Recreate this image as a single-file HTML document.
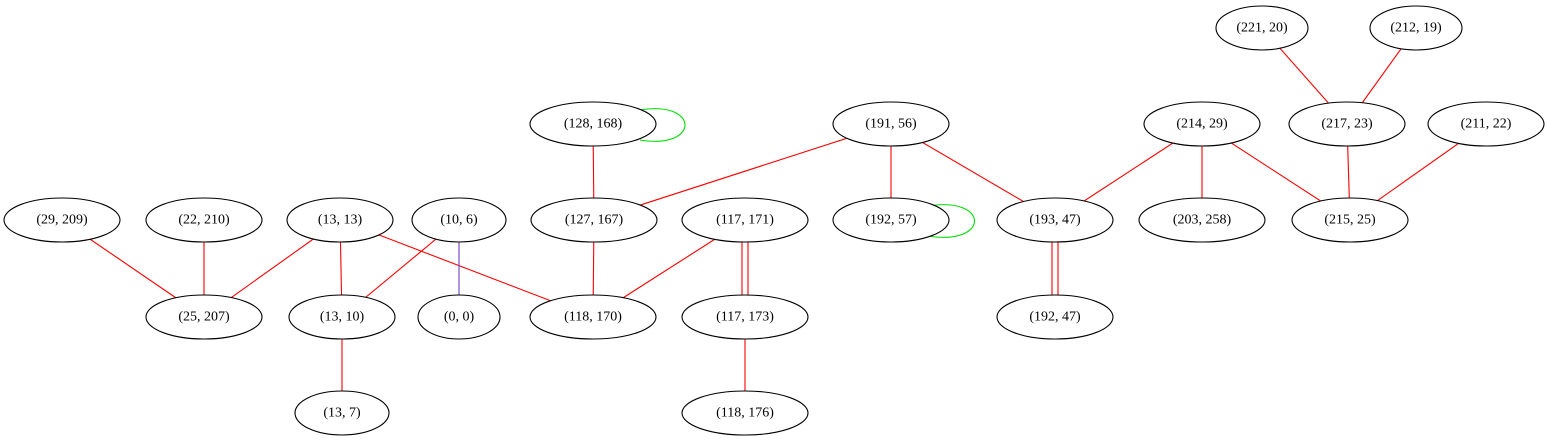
<!DOCTYPE html>
<html><head><meta charset="utf-8"><style>
html,body{margin:0;padding:0;background:#fff;}
svg{display:block;}
text{font-family:"Liberation Serif",serif;font-size:14px;text-anchor:middle;dominant-baseline:central;}
</style></head><body>
<svg width="1549" height="443" viewBox="0 0 1549 443" xmlns="http://www.w3.org/2000/svg">
<g stroke="red" stroke-width="1.1" fill="none">
<line x1="1262" y1="28" x2="1347" y2="124"/>
<line x1="1416" y1="28" x2="1347" y2="124"/>
<line x1="593" y1="124" x2="594" y2="220"/>
<line x1="891" y1="124" x2="594" y2="220"/>
<line x1="891" y1="124" x2="891" y2="220"/>
<line x1="891" y1="124" x2="1055" y2="220"/>
<line x1="1202" y1="124" x2="1055" y2="220"/>
<line x1="1202" y1="124" x2="1202" y2="220"/>
<line x1="1202" y1="124" x2="1350" y2="220"/>
<line x1="1347" y1="124" x2="1350" y2="220"/>
<line x1="1486" y1="124" x2="1350" y2="220"/>
<line x1="62" y1="220" x2="204" y2="317"/>
<line x1="204" y1="220" x2="204" y2="317"/>
<line x1="340" y1="220" x2="204" y2="317"/>
<line x1="340" y1="220" x2="342" y2="317"/>
<line x1="340" y1="220" x2="593" y2="317"/>
<line x1="459" y1="220" x2="342" y2="317"/>
<line x1="594" y1="220" x2="593" y2="317"/>
<line x1="745" y1="220" x2="593" y2="317"/>
<line x1="742" y1="220" x2="742" y2="317"/>
<line x1="748" y1="220" x2="748" y2="317"/>
<line x1="1052" y1="220" x2="1052" y2="317"/>
<line x1="1058" y1="220" x2="1058" y2="317"/>
<line x1="342" y1="317" x2="342" y2="413"/>
<line x1="745" y1="317" x2="745" y2="413"/>
</g>
<line x1="459" y1="220" x2="459" y2="317" stroke="#7040c0" stroke-width="1.1"/>
<g stroke="#00e000" stroke-width="1.1" fill="none">
<path d="M640,110 C700,100 700,150 640,140"/>
<path d="M928,206 C990,196 990,246 928,236"/>
</g>
<g fill="#fff" stroke="#000" stroke-width="1.1">
<ellipse cx="1262" cy="28" rx="46" ry="22"/>
<ellipse cx="1416" cy="28" rx="46" ry="22"/>
<ellipse cx="593" cy="124" rx="63" ry="22"/>
<ellipse cx="891" cy="124" rx="58" ry="22"/>
<ellipse cx="1202" cy="124" rx="58" ry="22"/>
<ellipse cx="1347" cy="124" rx="58" ry="22"/>
<ellipse cx="1486" cy="124" rx="58" ry="22"/>
<ellipse cx="62" cy="220" rx="58" ry="22"/>
<ellipse cx="204" cy="220" rx="58" ry="22"/>
<ellipse cx="340" cy="220" rx="53" ry="22"/>
<ellipse cx="459" cy="220" rx="47" ry="22"/>
<ellipse cx="594" cy="220" rx="63" ry="22"/>
<ellipse cx="745" cy="220" rx="63" ry="22"/>
<ellipse cx="891" cy="220" rx="58" ry="22"/>
<ellipse cx="1055" cy="220" rx="58" ry="22"/>
<ellipse cx="1202" cy="220" rx="63" ry="22"/>
<ellipse cx="1350" cy="220" rx="58" ry="22"/>
<ellipse cx="204" cy="317" rx="58" ry="22"/>
<ellipse cx="342" cy="317" rx="53" ry="22"/>
<ellipse cx="459" cy="317" rx="41" ry="22"/>
<ellipse cx="593" cy="317" rx="63" ry="22"/>
<ellipse cx="745" cy="317" rx="63" ry="22"/>
<ellipse cx="1055" cy="317" rx="58" ry="22"/>
<ellipse cx="342" cy="413" rx="47" ry="22"/>
<ellipse cx="745" cy="413" rx="63" ry="22"/>
</g>
<g fill="#000">
<text x="1262" y="28">(221, 20)</text>
<text x="1416" y="28">(212, 19)</text>
<text x="593" y="124">(128, 168)</text>
<text x="891" y="124">(191, 56)</text>
<text x="1202" y="124">(214, 29)</text>
<text x="1347" y="124">(217, 23)</text>
<text x="1486" y="124">(211, 22)</text>
<text x="62" y="220">(29, 209)</text>
<text x="204" y="220">(22, 210)</text>
<text x="340" y="220">(13, 13)</text>
<text x="459" y="220">(10, 6)</text>
<text x="594" y="220">(127, 167)</text>
<text x="745" y="220">(117, 171)</text>
<text x="891" y="220">(192, 57)</text>
<text x="1055" y="220">(193, 47)</text>
<text x="1202" y="220">(203, 258)</text>
<text x="1350" y="220">(215, 25)</text>
<text x="204" y="317">(25, 207)</text>
<text x="342" y="317">(13, 10)</text>
<text x="459" y="317">(0, 0)</text>
<text x="593" y="317">(118, 170)</text>
<text x="745" y="317">(117, 173)</text>
<text x="1055" y="317">(192, 47)</text>
<text x="342" y="413">(13, 7)</text>
<text x="745" y="413">(118, 176)</text>
</g>
</svg>
</body></html>
